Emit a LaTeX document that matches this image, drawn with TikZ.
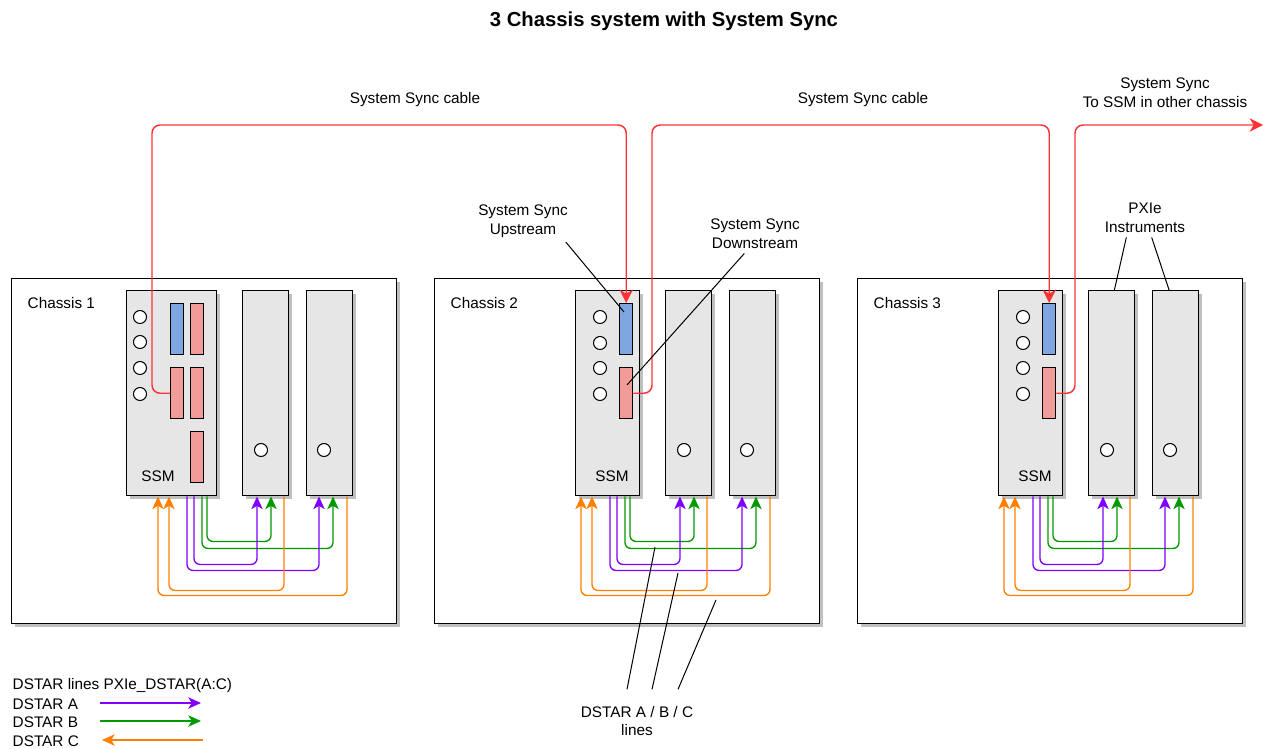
\documentclass[tikz,border=0pt]{standalone}
\usepackage{fontspec}
\setmainfont{Liberation Sans}
\usetikzlibrary{arrows.meta, shadows}

\definecolor{syncred}{HTML}{FF3333}
\definecolor{dstara}{HTML}{7F00FF}
\definecolor{dstarb}{HTML}{009900}
\definecolor{dstarc}{HTML}{FF8000}
\definecolor{modgray}{HTML}{E6E6E6}
\definecolor{upblue}{HTML}{7EA6E0}
\definecolor{dnpink}{HTML}{F19C99}

\begin{document}
\begin{tikzpicture}[x=0.75pt, y=-0.75pt,
every node/.style={font=\fontsize{11.5}{14}\selectfont},
boxshadow/.style={drop shadow={shadow xshift=2.25pt, shadow yshift=-2.25pt, fill=black!25, opacity=1}},
chassisbox/.style={rectangle, draw, line width=1.1pt, fill=white, boxshadow, anchor=north west, minimum width=288.75pt, minimum height=258.75pt, inner sep=0pt},
module/.style={rectangle, draw, line width=1.1pt, fill=modgray, boxshadow, anchor=north west, minimum height=153.75pt, inner sep=0pt},
port/.style={rectangle, draw, line width=1.1pt, anchor=north west, minimum width=9.75pt, minimum height=38.25pt, inner sep=0pt},
led/.style={circle, draw, fill=white, line width=0.8pt, minimum size=9.75pt, inner sep=0pt},
sync/.style={draw=syncred, line width=1.1pt, rounded corners=6pt, -{Stealth[length=10pt, width=10pt, inset=3pt]}},
dstar/.style={line width=1pt, rounded corners=4.5pt},
dtip/.style={-{Stealth[length=9.5pt, width=8.5pt, inset=2.5pt]}},
callout/.style={draw, line width=0.75pt},
note/.style={align=center}]
\useasboundingbox (0,0) rectangle (1264,749);

%Title
\node[font=\bfseries\fontsize{15.2}{18}\selectfont] (title) at (664,21) {3 Chassis system with System Sync};

%Chassis
\foreach \n/\ox in {1/11, 2/434, 3/857} {
  \node[chassisbox] (ch\n) at (\ox,278) {};
  \node[anchor=west] (lch\n) at (\ox+12,303) {Chassis \n};
}

%SSM in chassis 1
\node[module, minimum width=67.5pt] (ssm1) at (126,290) {};
\node (lssm1) at (158,476) {SSM};
\foreach \y [count=\i] in {317,342,368,394}
  \node[led] (led1\i) at (140,\y) {};
\node[port, fill=upblue] (up1) at (170,303) {};
\node[port, fill=dnpink] (dn1) at (170,367) {};
\node[port, fill=dnpink] (pa1) at (190,303) {};
\node[port, fill=dnpink] (pb1) at (190,367) {};
\node[port, fill=dnpink] (pc1) at (190,431) {};

%SSM in chassis 2 and 3
\foreach \n/\ox in {2/434, 3/857} {
  \begin{scope}[shift={(\ox,0)}]
    \node[module, minimum width=48pt] (ssm\n) at (141,290) {};
    \node (lssm\n) at (178,476) {SSM};
    \foreach \y [count=\i] in {317,343,368,394}
      \node[led] (led\n\i) at (166,\y) {};
    \node[port, fill=upblue] (up\n) at (185,303) {};
    \node[port, fill=dnpink] (dn\n) at (185,367) {};
  \end{scope}
}

%PXIe instruments and DSTAR lines
\foreach \n/\ox in {1/11, 2/434, 3/857} {
  \begin{scope}[shift={(\ox,0)}]
    \node[module, minimum width=34.5pt] (ia\n) at (231,290) {};
    \node[module, minimum width=34.5pt] (ib\n) at (295,290) {};
    \node[led] (lia\n) at (250,450) {};
    \node[led] (lib\n) at (313,450) {};
    % DSTAR B
    \draw[dstar, dstarb, dtip] (196,0 |- ssm\n.south) -- ++(0,45) -| (260,0 |- ia\n.south);
    \draw[dstar, dstarb, dtip] (191,0 |- ssm\n.south) -- ++(0,52) -| (322,0 |- ib\n.south);
    % DSTAR A
    \draw[dstar, dstara, dtip] (183,0 |- ssm\n.south) -- ++(0,68) -| (246,0 |- ia\n.south);
    \draw[dstar, dstara, dtip] (176,0 |- ssm\n.south) -- ++(0,74) -| (308,0 |- ib\n.south);
    % DSTAR C
    \draw[dstar, dstarc, dtip] (273,0 |- ia\n.south) -- ++(0,94) -| (158,0 |- ssm\n.south);
    \draw[dstar, dstarc, dtip] (336,0 |- ib\n.south) -- ++(0,99) -| (147,0 |- ssm\n.south);
  \end{scope}
}

%System Sync cables
\draw[sync] (dn1.west) -| (152,125) -| (up2.north);
\draw[sync] (dn2.east) -| (652,125) -| (up3.north);
\coordinate (syncout) at (1263,125);
\draw[sync] (dn3.east) -| (1075,125) -- (syncout);
\node (lcab1) at (415,100) {System Sync cable};
\node (lcab2) at (863,100) {System Sync cable};
\node[note] (lout) at (1165,93) {System Sync\\To SSM in other chassis};

%Callouts
\node[note] (lup) at (523,221) {System Sync\\Upstream};
\coordinate (upTip) at (624,312);
\draw[callout] ([xshift=-5pt]lup.south east) -- (upTip);
\node[note] (ldn) at (755,234) {System Sync\\Downstream};
\coordinate (dnTip) at (627,385);
\draw[callout] ([xshift=-8pt]ldn.south) -- (dnTip);
\node[note] (lpx) at (1145,218) {PXIe\\Instruments};
\draw[callout] ([xshift=-14pt]lpx.south) -- ([xshift=2pt]ia3.north);
\draw[callout] ([xshift=5pt]lpx.south) -- ([xshift=-5pt]ib3.north);
\node[note] (ldst) at (637,721) {DSTAR A / B / C\\lines};
\coordinate (dsA) at (655,547);
\coordinate (dsB) at (678,573);
\coordinate (dsC) at (716,600);
\draw[callout] (ldst.north) ++(-10,-12) -- (dsA);
\draw[callout] (ldst.north) ++(15,-12) -- (dsB);
\draw[callout] (ldst.north) ++(41,-12) -- (dsC);

%Legend
\node[anchor=west] (lgtitle) at (8,686) {DSTAR lines PXIe\_DSTAR(A:C)};
\node[anchor=west] (lga) at (8,704) {DSTAR A};
\node[anchor=west] (lgb) at (8,722) {DSTAR B};
\node[anchor=west] (lgc) at (8,741) {DSTAR C};
\coordinate (lga0) at (100,703); \coordinate (lga1) at (201,703);
\coordinate (lgb0) at (100,721); \coordinate (lgb1) at (201,721);
\coordinate (lgc0) at (203,740); \coordinate (lgc1) at (102,740);
\draw[dstar, dstara, dtip] (lga0) -- (lga1);
\draw[dstar, dstarb, dtip] (lgb0) -- (lgb1);
\draw[dstar, dstarc, dtip] (lgc0) -- (lgc1);
\end{tikzpicture}
\end{document}
